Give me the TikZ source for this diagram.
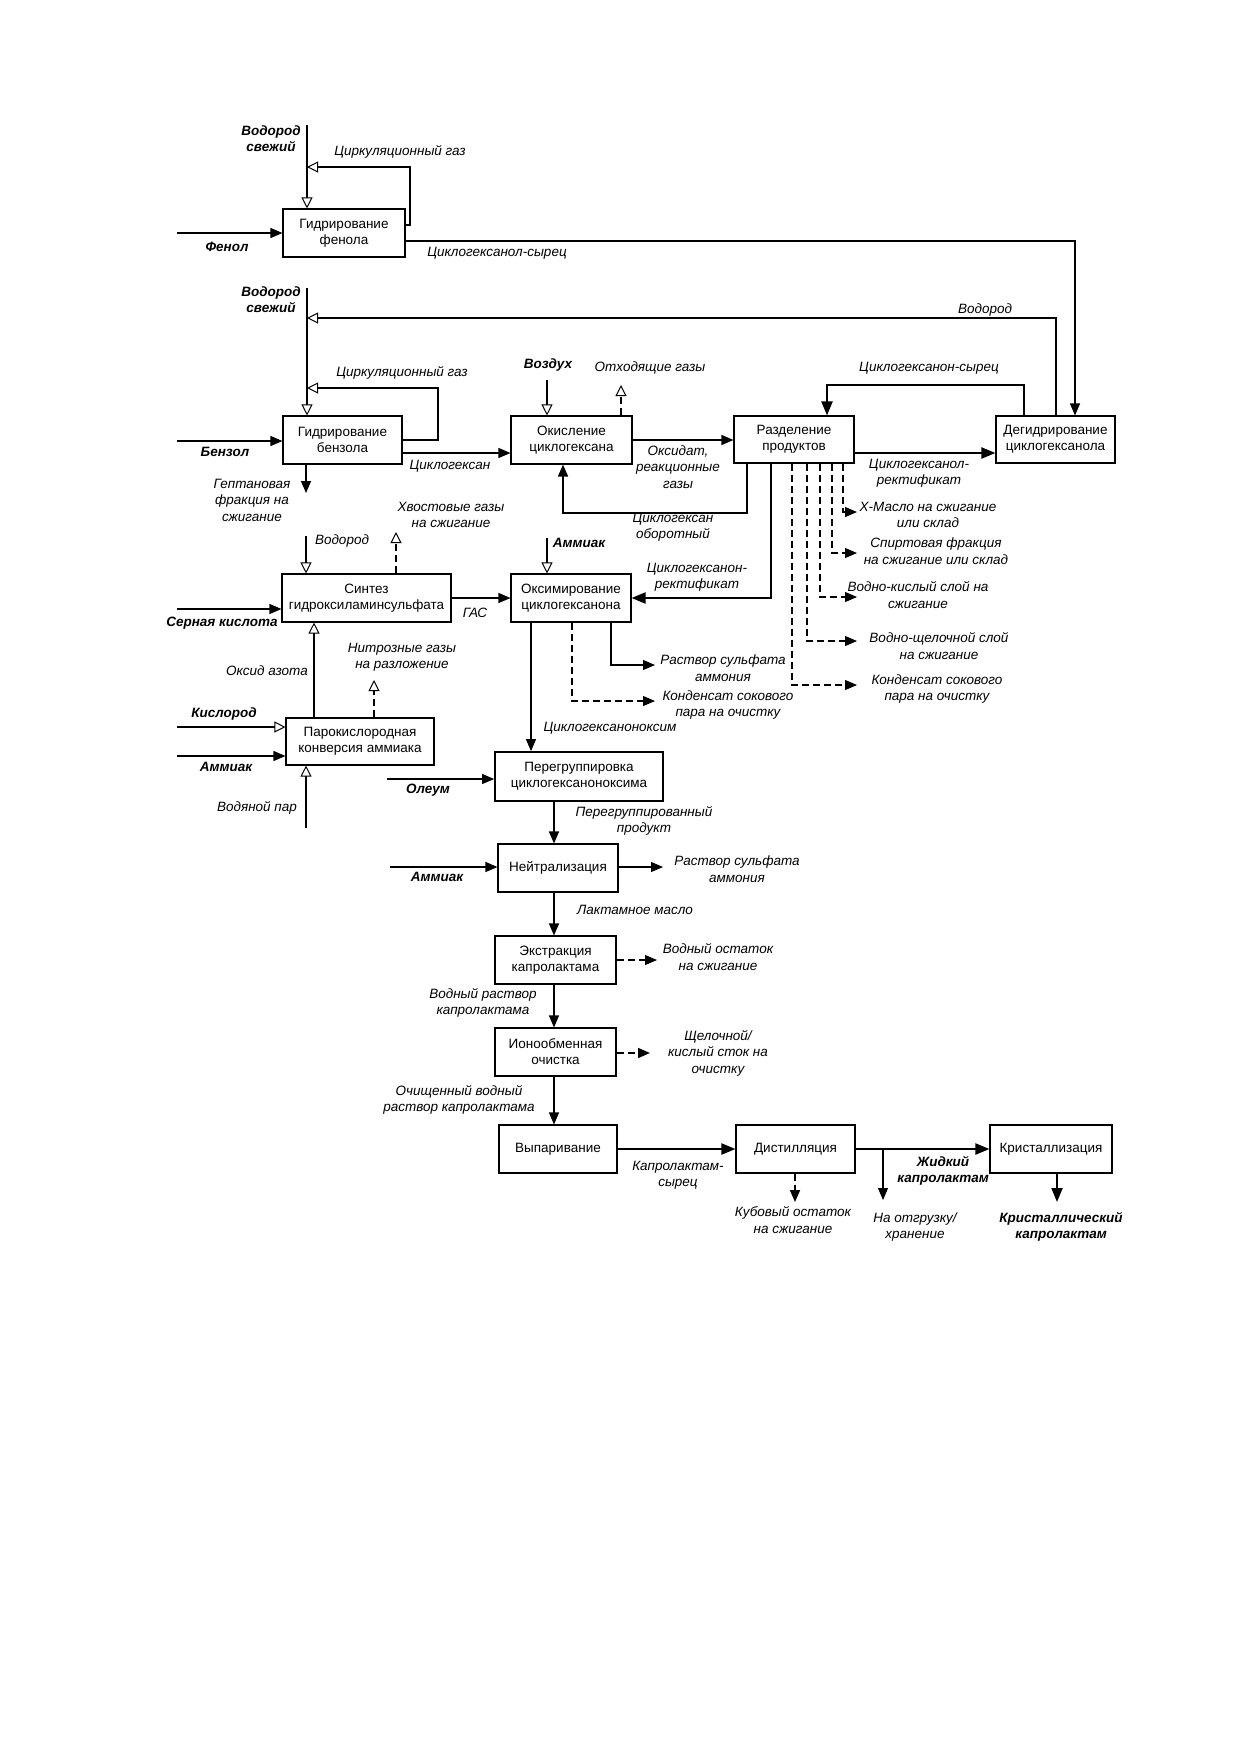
\documentclass[tikz,border=0pt]{standalone}
\usepackage{fontspec}
\setmainfont{Liberation Sans}
\usetikzlibrary{arrows.meta,calc}
\newcommand\boxfont{\fontsize{13.5}{16}\selectfont}
\newcommand\labfont{\fontsize{13.5}{16.5}\selectfont\itshape}
\newcommand\blabfont{\fontsize{13.5}{16}\selectfont\bfseries\itshape}
\begin{document}
\begin{tikzpicture}[x=1pt,y=-1pt,
  proc/.style={draw,line width=1.1pt,minimum height=48pt,align=center,font=\boxfont,inner sep=1pt},
  lab/.style={font=\labfont,align=center,inner sep=0pt},
  blab/.style={font=\blabfont,align=center,inner sep=0pt},
  ln/.style={line width=1.1pt},
  mid/.style={line width=1.5pt},
  thk/.style={line width=2.1pt},
  dsh/.style={line width=1.1pt,dash pattern=on 7pt off 4pt},
  dshk/.style={line width=1.7pt,dash pattern=on 7pt off 4pt},
  arrF/.style={-{Triangle[length=12pt,width=10pt]}},
  arrT/.style={-{Triangle[length=14pt,width=11pt]}},
  arrO/.style={-{Triangle[open,length=11pt,width=11pt,line width=1pt]}},
]
\fill[white] (0,0) rectangle (1240,1754);
\useasboundingbox (0,0) rectangle (1240,1754);

% ---------- boxes ----------
\node[proc,minimum width=122pt] (phenol)  at (344,233)   {Гидрирование\\фенола};
\node[proc,minimum width=119pt] (benzene) at (342.5,440) {Гидрирование\\бензола};
\node[proc,minimum width=121pt] (oxid)    at (571.5,440) {Окисление\\циклогексана};
\node[proc,minimum width=120pt,minimum height=47pt] (sep) at (794,439.5) {Разделение\\продуктов};
\node[proc,minimum width=119pt,minimum height=47pt] (dehydro) at (1055.5,439.5) {Дегидрирование\\циклогексанола};
\node[proc,minimum width=169pt] (synth)   at (366.5,598) {Синтез\\гидроксиламинсульфата};
\node[proc,minimum width=120pt] (oxim)    at (571,598)   {Оксимирование\\циклогексанона};
\node[proc,minimum width=148pt,minimum height=47pt] (paro) at (360,741.5) {Парокислородная\\конверсия аммиака};
\node[proc,minimum width=168pt,minimum height=49pt,line width=1.8pt] (pereg) at (579,776.5) {Перегруппировка\\циклогексаноноксима};
\node[proc,minimum width=120pt] (neutr)   at (558,868)   {Нейтрализация};
\node[proc,minimum width=121pt] (extr)    at (555.5,960) {Экстракция\\капролактама};
\node[proc,minimum width=121pt] (ion)     at (555.5,1052) {Ионообменная\\очистка};
\node[proc,minimum width=118pt] (evap)    at (558,1149)  {Выпаривание};
\node[proc,minimum width=119pt] (dist)    at (795.5,1149) {Дистилляция};
\node[proc,minimum width=122pt] (cryst)   at (1051,1149) {Кристаллизация};

% ---------- phenol hydrogenation ----------
\coordinate (h1top) at (307,125);
\draw[ln,arrO] (h1top) -- (h1top |- phenol.north);
\node[blab] at (271,139) {Водород\\свежий};
\coordinate (cg1a) at (410,225);
\coordinate (cg1b) at (410,167);
\draw[ln,arrO] (phenol.east |- cg1a) -- (cg1a) -- (cg1b) -- (h1top |- cg1b);
\node[lab] at (400,152) {Циркуляционный газ};
\coordinate (phin) at (177,233);
\draw[ln,arrF] (phin) -- (phenol.west);
\node[blab] at (227,247) {Фенол};
\coordinate (olc) at (1075,241);
\draw[ln,arrF] (phenol.east |- olc) -- (olc) -- (olc |- dehydro.north);
\node[lab] at (497,253) {Циклогексанол-сырец};

% ---------- benzene hydrogenation ----------
\coordinate (h2top) at (307,288);
\draw[ln,arrO] (h2top) -- (h2top |- benzene.north);
\node[blab] at (271,300) {Водород\\свежий};
\coordinate (h2r) at (1056,318);
\draw[thk,arrO] (h2r |- dehydro.north) -- (h2r) -- (h2top |- h2r);
\node[lab] at (985,310) {Водород};
\coordinate (cg2a) at (438,440);
\coordinate (cg2b) at (438,388);
\draw[ln,arrO] (benzene.east) -- (cg2a) -- (cg2b) -- (h2top |- cg2b);
\node[lab] at (402,373) {Циркуляционный газ};
\coordinate (bzin) at (177,441);
\draw[ln,arrF] (bzin) -- (benzene.west |- bzin);
\node[blab] at (225,452) {Бензол};
\coordinate (chx) at (450,453);
\draw[ln,arrF] (benzene.east |- chx) -- (oxid.west |- chx);
\node[lab] at (450,466) {Циклогексан};
\coordinate (hept) at (306,493);
\draw[ln,arrF] (hept |- benzene.south) -- (hept);
\node[lab] at (252,500) {Гептановая\\фракция на\\сжигание};

% ---------- oxidation ----------
\coordinate (air) at (547,380);
\draw[ln,arrO] (air) -- (air |- oxid.north);
\node[blab] at (548,365) {Воздух};
\coordinate (offg) at (621,385);
\draw[dsh,arrO] (offg |- oxid.north) -- (offg);
\node[lab] at (650,368) {Отходящие газы};
\draw[ln,arrF] (oxid.east) -- (sep.west |- oxid.east);
\node[lab] at (678,467) {Оксидат,\\реакционные\\газы};
\coordinate (rc1) at (747,513);
\coordinate (rc2) at (563,513);
\draw[mid,arrF] (rc1 |- sep.south) -- (rc1) -- (rc2) -- (rc2 |- oxid.south);
\node[lab] at (673,527) {Циклогексан\\оборотный};

% ---------- separation / dehydrogenation ----------
\coordinate (rs1) at (1024,385);
\coordinate (rs2) at (827,385);
\draw[thk,arrT] (rs1 |- dehydro.north) -- (rs1) -- (rs2) -- (rs2 |- sep.north);
\node[lab] at (929,368) {Циклогексанон-сырец};
\coordinate (olr) at (900,453);
\draw[thk,arrT] (sep.east |- olr) -- (dehydro.west |- olr);
\node[lab] at (919,473) {Циклогексанол-\\ректификат};
\coordinate (onr) at (771,598);
\draw[thk,arrT] (onr |- sep.south) -- (onr) -- (oxim.east);
\node[lab] at (697,577) {Циклогексанон-\\ректификат};

\coordinate (d1) at (843,512); \coordinate (d1e) at (857,512);
\coordinate (d2) at (832,553); \coordinate (d2e) at (857,553);
\coordinate (d3) at (820,597); \coordinate (d3e) at (857,597);
\coordinate (d4) at (807,641); \coordinate (d4e) at (857,641);
\coordinate (d5) at (792,685); \coordinate (d5e) at (857,685);
\draw[dsh,arrF] (d1 |- sep.south) -- (d1) -- (d1e);
\draw[dsh,arrF] (d2 |- sep.south) -- (d2) -- (d2e);
\draw[dsh,arrF] (d3 |- sep.south) -- (d3) -- (d3e);
\draw[dsh,arrF] (d4 |- sep.south) -- (d4) -- (d4e);
\draw[dsh,arrF] (d5 |- sep.south) -- (d5) -- (d5e);
\node[lab] at (928,515) {X-Масло на сжигание\\или склад};
\node[lab] at (936,551) {Спиртовая фракция\\на сжигание или склад};
\node[lab] at (918,595) {Водно-кислый слой на\\сжигание};
\node[lab] at (939,646) {Водно-щелочной слой\\на сжигание};
\node[lab] at (937,689) {Конденсат сокового\\пара на очистку};

% ---------- hydroxylamine sulfate synthesis ----------
\coordinate (h3) at (306,536);
\draw[ln,arrO] (h3) -- (h3 |- synth.north);
\node[lab] at (342,541) {Водород};
\coordinate (tail) at (396,532);
\draw[dsh,arrO] (tail |- synth.north) -- (tail);
\node[lab] at (451,515) {Хвостовые газы\\на сжигание};
\coordinate (h2so4) at (177,609);
\draw[ln,arrF] (h2so4) -- (synth.west |- h2so4);
\node[blab] at (222,623) {Серная кислота};
\draw[ln,arrF] (synth.east) -- (oxim.west);
\node[lab] at (475,613) {ГАС};

% ---------- oximation ----------
\coordinate (nh3a) at (547,538);
\draw[ln,arrO] (nh3a) -- (nh3a |- oxim.north);
\node[blab] at (579,543) {Аммиак};
\coordinate (oxo) at (531,700);
\draw[ln,arrF] (oxo |- oxim.south) -- (oxo |- pereg.north);
\node[lab] at (610,728) {Циклогексаноноксим};
\coordinate (cd1) at (572,701); \coordinate (cd2) at (655,701);
\draw[dsh,arrF] (cd1 |- oxim.south) -- (cd1) -- (cd2);
\node[lab] at (728,705) {Конденсат сокового\\пара на очистку};
\coordinate (as1) at (611,665); \coordinate (as2) at (655,665);
\draw[ln,arrF] (as1 |- oxim.south) -- (as1) -- (as2);
\node[lab] at (723,668) {Раствор сульфата\\аммония};

% ---------- ammonia conversion ----------
\coordinate (nox) at (314,680);
\draw[ln,arrO] (nox |- paro.north) -- (nox |- synth.south);
\node[lab] at (267,671) {Оксид азота};
\coordinate (nitr) at (374,680);
\draw[dsh,arrO] (nitr |- paro.north) -- (nitr);
\node[lab] at (402,657) {Нитрозные газы\\на разложение};
\coordinate (o2) at (177,727);
\draw[ln,arrO] (o2) -- (paro.west |- o2);
\node[blab] at (224,714) {Кислород};
\coordinate (nh3b) at (177,756);
\draw[ln,arrF] (nh3b) -- (paro.west |- nh3b);
\node[blab] at (226,767) {Аммиак};
\coordinate (steam) at (306,828);
\draw[ln,arrO] (steam) -- (steam |- paro.south);
\node[lab] at (257,808) {Водяной пар};
\coordinate (oleum) at (387,779);
\draw[ln,arrF] (oleum) -- (pereg.west |- oleum);
\node[blab] at (428,790) {Олеум};

% ---------- lower chain ----------
\coordinate (vx) at (554,0);
\draw[mid,arrF] (vx |- pereg.south) -- (vx |- neutr.north);
\node[lab] at (644,821) {Перегруппированный\\продукт};
\coordinate (nh3c) at (390,867);
\draw[ln,arrF] (nh3c) -- (neutr.west |- nh3c);
\node[blab] at (437,877) {Аммиак};
\coordinate (as3) at (663,867);
\draw[ln,arrF] (neutr.east |- as3) -- (as3);
\node[lab] at (737,869) {Раствор сульфата\\аммония};
\draw[ln,arrF] (vx |- neutr.south) -- (vx |- extr.north);
\node[lab] at (635,910) {Лактамное масло};
\coordinate (wr) at (657,960);
\draw[dsh,arrF] (extr.east |- wr) -- (wr);
\node[lab] at (718,957) {Водный остаток\\на сжигание};
\draw[ln,arrF] (vx |- extr.south) -- (vx |- ion.north);
\node[lab] at (483,1003) {Водный раствор\\капролактама};
\coordinate (ac) at (650,1053);
\draw[dshk,arrF] (ion.east |- ac) -- (ac);
\node[lab] at (718,1053) {Щелочной/\\кислый сток на\\очистку};
\draw[ln,arrF] (vx |- ion.south) -- (vx |- evap.north);
\node[lab] at (459,1100) {Очищенный водный\\раствор капролактама};
\draw[thk,arrT] (evap.east) -- (dist.west);
\node[lab] at (678,1175) {Капролактам-\\сырец};
\coordinate (kub) at (795,1202);
\draw[dshk,arrF] (kub |- dist.south) -- (kub);
\node[lab] at (793,1220) {Кубовый остаток\\на сжигание};
\draw[thk,arrT] (dist.east) -- (cryst.west);
\coordinate (ship) at (883,1200);
\draw[ln,arrF] (ship |- dist.east) -- (ship);
\node[blab] at (943,1171) {Жидкий\\капролактам};
\node[lab] at (915,1227) {На отгрузку/\\хранение};
\coordinate (cry) at (1057,1202);
\draw[thk,arrT] (cry |- cryst.south) -- (cry);
\node[blab] at (1061,1227) {Кристаллический\\капролактам};
\end{tikzpicture}
\end{document}
